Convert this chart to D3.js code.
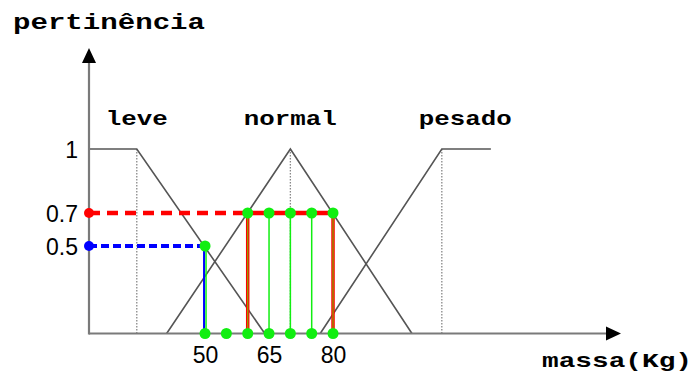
<!DOCTYPE html>
<html>
<head>
<meta charset="utf-8">
<script src="https://cdn.jsdelivr.net/npm/d3@7"></script>
<style>
  html, body { margin: 0; padding: 0; background: #fff; }
  svg { display: block; }
</style>
</head>
<body>
<div id="chart"></div>
<script>
// fuzzy sets for "massa" (kg) -> membership
const setNames = ["leve", "normal", "pesado"];
const setLabelX = [34, 70, 111];
const leve = [[22.8, 1], [34, 1], [64, 0]];
const normal = [[41, 0], [70, 1], [98.5, 0]];
const pesado = [[77, 0], [105.5, 1], [117, 1]];
const peakX = [34, 70, 105.5];           // dotted guides from 1 down to 0

const yTicks = [1, 0.7, 0.5];
const xTicks = [50, 65, 80];

const cutHigh = 0.7, cutHighFrom = 60, cutHighTo = 80;
const cutLow = 0.5, cutLowAt = 50;
const sampleX = [50, 55, 60, 65, 70, 75, 80];   // dots on the x axis
const topX = [60, 65, 70, 75, 80];              // dots on the 0.7 line
const thinX = [65, 70, 75];

const width = 694, height = 383;
const x0 = 22.8, x1 = 147.5;

const svg = d3.select("#chart").append("svg")
  .attr("width", width)
  .attr("height", height);

const x = d3.scaleLinear().domain([x0, x1]).range([89, 621]);
// the picture is schematic, so the y scale is piecewise
const y = d3.scaleLinear().domain([0, 0.5, 0.7, 1, 1.55]).range([333.5, 246, 213, 149, 48]);

const gray = "#555", axisGray = "#7a7a7a";
const red = "#ff0000", blue = "#0000ff", green = "#11ee11";
const mono = "'Liberation Mono', 'DejaVu Sans Mono', monospace";
const sans = "'Liberation Sans', Arial, sans-serif";

// dotted guides
svg.selectAll(".guide")
  .data(peakX)
  .join("line")
    .attr("x1", d => x(d)).attr("x2", d => x(d))
    .attr("y1", y(1)).attr("y2", y(0))
    .attr("stroke", "#888")
    .attr("stroke-width", 1.3)
    .attr("stroke-dasharray", "1.5,1.5");

// membership functions
const line = d3.line().x(d => x(d[0])).y(d => y(d[1]));
svg.selectAll(".mf")
  .data([leve, normal, pesado])
  .join("path")
    .attr("d", line)
    .attr("fill", "none")
    .attr("stroke", gray)
    .attr("stroke-width", 1.6);

// set labels
svg.selectAll(".setlbl")
  .data(setNames)
  .join("text")
    .attr("x", (d, i) => x(setLabelX[i]))
    .attr("y", 125)
    .attr("text-anchor", "middle")
    .attr("font-family", mono)
    .attr("font-weight", 700)
    .attr("font-size", 21)
    .attr("textLength", d => d.length * 15.5)
    .attr("lengthAdjust", "spacingAndGlyphs")
    .text(d => d);

// dashed cut lines
svg.append("line")
  .attr("x1", x(x0)).attr("x2", x(cutHighFrom))
  .attr("y1", y(cutHigh)).attr("y2", y(cutHigh))
  .attr("stroke", red).attr("stroke-width", 4.5)
  .attr("stroke-dasharray", "11,7");
svg.append("line")
  .attr("x1", x(cutHighFrom)).attr("x2", x(cutHighTo))
  .attr("y1", y(cutHigh)).attr("y2", y(cutHigh))
  .attr("stroke", red).attr("stroke-width", 4.5);
svg.append("line")
  .attr("x1", x(x0)).attr("x2", x(cutLowAt))
  .attr("y1", y(cutLow)).attr("y2", y(cutLow))
  .attr("stroke", blue).attr("stroke-width", 4)
  .attr("stroke-dasharray", "8,4");

// verticals
svg.append("line")
  .attr("x1", x(cutLowAt) - 1).attr("x2", x(cutLowAt) - 1)
  .attr("y1", y(cutLow)).attr("y2", y(0))
  .attr("stroke", blue).attr("stroke-width", 2);
svg.append("line")
  .attr("x1", x(cutLowAt) + 1).attr("x2", x(cutLowAt) + 1)
  .attr("y1", y(cutLow)).attr("y2", y(0))
  .attr("stroke", green).attr("stroke-width", 1.5);

svg.selectAll(".edge")
  .data([cutHighFrom, cutHighTo])
  .join("line")
    .attr("x1", d => x(d)).attr("x2", d => x(d))
    .attr("y1", y(cutHigh)).attr("y2", y(0))
    .attr("stroke", red).attr("stroke-width", 3.5);
svg.selectAll(".edgeg")
  .data([cutHighFrom, cutHighTo])
  .join("line")
    .attr("x1", d => x(d)).attr("x2", d => x(d))
    .attr("y1", y(cutHigh)).attr("y2", y(0))
    .attr("stroke", "#88aa00").attr("stroke-width", 1.2);

svg.selectAll(".thin")
  .data(thinX)
  .join("line")
    .attr("x1", d => x(d)).attr("x2", d => x(d))
    .attr("y1", y(cutHigh)).attr("y2", y(0))
    .attr("stroke", green).attr("stroke-width", 1.5);

// axes lines + arrows
svg.append("line")
  .attr("x1", x(x0)).attr("x2", x(x1) - 10)
  .attr("y1", y(0)).attr("y2", y(0))
  .attr("stroke", axisGray).attr("stroke-width", 2.2);
svg.append("line")
  .attr("x1", x(x0)).attr("x2", x(x0))
  .attr("y1", y(0) + 1).attr("y2", y(1.55) + 10)
  .attr("stroke", axisGray).attr("stroke-width", 2.2);

const ax = x(x1), ay = y(0);
svg.append("path")
  .attr("d", `M${ax},${ay} L${ax - 15},${ay - 7} L${ax - 15},${ay + 7} Z`)
  .attr("fill", "#000");
const tx = x(x0), ty = y(1.55);
svg.append("path")
  .attr("d", `M${tx},${ty} L${tx - 7},${ty + 15} L${tx + 7},${ty + 15} Z`)
  .attr("fill", "#000");

// tick labels via axes
const yAxis = d3.axisLeft(y).tickValues(yTicks).tickSize(0).tickPadding(11)
  .tickFormat(d => d === 1 ? "1" : d3.format(".1f")(d));
const gy = svg.append("g").attr("transform", `translate(${x(x0)},0)`).call(yAxis);
gy.select(".domain").remove();
gy.selectAll("text")
  .attr("font-family", sans).attr("font-size", 23).attr("fill", "#000").attr("dy", "0.36em");

const xAxis = d3.axisBottom(x).tickValues(xTicks).tickSize(0);
const gx = svg.append("g").attr("transform", `translate(0,${y(0)})`).call(xAxis);
gx.select(".domain").remove();
gx.selectAll("text")
  .attr("font-family", sans).attr("font-size", 23).attr("fill", "#000")
  .attr("y", 13).attr("dy", "0.71em");

// dots
svg.selectAll(".dotx")
  .data(sampleX)
  .join("circle")
    .attr("cx", d => x(d)).attr("cy", y(0)).attr("r", 5.5).attr("fill", green);
svg.selectAll(".dott")
  .data(topX)
  .join("circle")
    .attr("cx", d => x(d)).attr("cy", y(cutHigh)).attr("r", 5.5).attr("fill", green);
svg.append("circle").attr("cx", x(cutLowAt)).attr("cy", y(cutLow)).attr("r", 5.5).attr("fill", green);
svg.append("circle").attr("cx", x(x0)).attr("cy", y(cutHigh)).attr("r", 5).attr("fill", red);
svg.append("circle").attr("cx", x(x0)).attr("cy", y(cutLow)).attr("r", 5).attr("fill", blue);

// titles
svg.append("text")
  .attr("x", 13).attr("y", 29)
  .attr("font-family", mono).attr("font-weight", 700).attr("font-size", 22)
  .attr("textLength", 192).attr("lengthAdjust", "spacingAndGlyphs")
  .text("pertinência");
svg.append("text")
  .attr("x", 542).attr("y", 367)
  .attr("font-family", mono).attr("font-weight", 700).attr("font-size", 21)
  .attr("textLength", 150).attr("lengthAdjust", "spacingAndGlyphs")
  .text("massa(Kg)");
</script>
</body>
</html>
